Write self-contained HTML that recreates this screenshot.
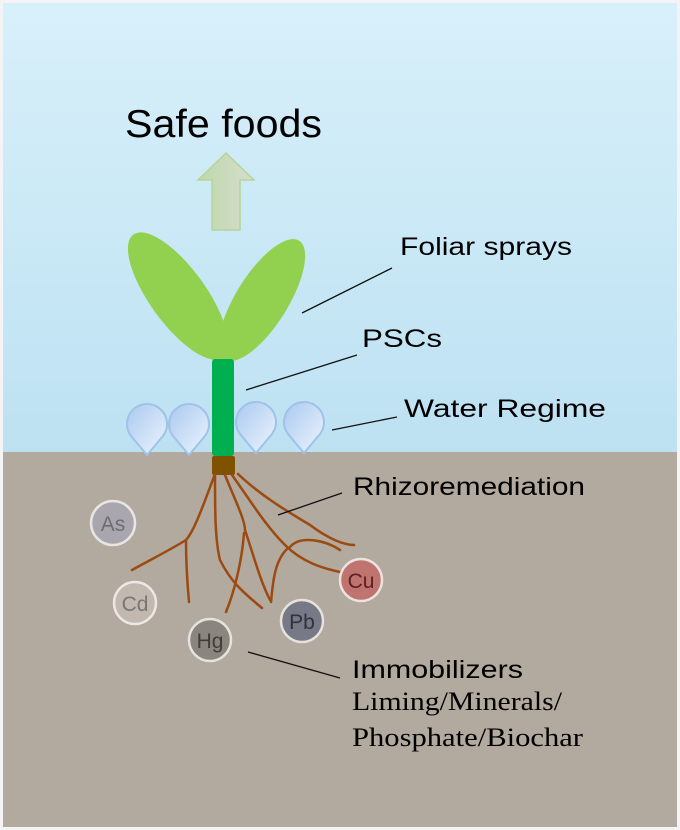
<!DOCTYPE html>
<html><head><meta charset="utf-8"><style>
html,body{margin:0;padding:0;width:680px;height:830px;overflow:hidden;background:#fff}
svg{display:block}
</style></head><body>
<svg width="680" height="830" viewBox="0 0 680 830" xmlns="http://www.w3.org/2000/svg">
<defs>
<linearGradient id="sky" x1="0" y1="0" x2="0" y2="1">
<stop offset="0" stop-color="#d8f0fa"/><stop offset="1" stop-color="#bde1f2"/>
</linearGradient>
<linearGradient id="drop" x1="0" y1="0" x2="1" y2="1">
<stop offset="0" stop-color="#a9c9f0"/><stop offset="1" stop-color="#eef5fd"/>
</linearGradient>
<linearGradient id="arr" x1="0" y1="0" x2="1" y2="0">
<stop offset="0" stop-color="#bcd8a8"/><stop offset="1" stop-color="#d8ddd0"/>
</linearGradient>
</defs>
<rect x="0" y="0" width="680" height="830" fill="#f4f4f4"/>
<rect x="3" y="3" width="674" height="450" fill="url(#sky)"/>
<rect x="3" y="452" width="674" height="375" fill="#b2a99f"/>

<text x="125" y="137" font-family="Liberation Sans, sans-serif" font-size="39" textLength="197" lengthAdjust="spacingAndGlyphs" fill="#000">Safe foods</text>
<path d="M226,153 L254,180 L240,180 L240,230 L212,230 L212,180 L198,180 Z" fill="url(#arr)" stroke="#b5d596" stroke-width="1.5"/>

<g fill="#92d050">
<ellipse cx="178" cy="296" rx="76" ry="28" transform="rotate(54 178 296)"/>
<ellipse cx="262" cy="300" rx="70" ry="26" transform="rotate(-58 262 300)"/>
<path d="M203,330 L222,322 L243,330 L235,360 L212,360 Z"/>
</g>
<rect x="212" y="359" width="22" height="97" rx="3" fill="#00b050"/>

<g fill="url(#drop)" stroke="#9fc3e8" stroke-width="2">
<path d="M147,455 L131,436 A20,20 0 1 1 163,436 Z"/>
<path d="M189,455 L173,436 A20,20 0 1 1 205,436 Z"/>
<path d="M256,453 L240,434 A20,20 0 1 1 272,434 Z"/>
<path d="M304,453 L288,434 A20,20 0 1 1 320,434 Z"/>
</g>

<rect x="212" y="456" width="23" height="19" rx="2" fill="#7f5200"/>
<g fill="none" stroke="#9c4a10" stroke-width="2.5" stroke-linecap="round">
<path d="M215,474 C205,500 195,530 186,540 C170,550 150,560 132,570"/>
<path d="M186,540 C186,560 187,580 189,602"/>
<path d="M215,474 C215,510 215,540 220,560 C230,580 240,590 262,608"/>
<path d="M225,475 C235,500 245,520 245,530 C255,560 260,580 270,600"/>
<path d="M244,533 C242,560 235,590 226,612"/>
<path d="M232,475 C250,500 265,525 285,545 C300,560 320,570 358,575"/>
<path d="M238,474 C260,495 285,510 310,525 C330,540 345,545 354,545"/>
<path d="M288,548 C275,560 273,580 271,602"/>
<path d="M290,547 C300,535 325,540 340,550"/>
</g>

<g font-family="Liberation Sans, sans-serif" font-size="21" text-anchor="middle">
<circle cx="113" cy="523" r="22" fill="#a9a7ad" stroke="#e8e6e4" stroke-width="2.5"/>
<text x="113" y="531" fill="#6b6e78">As</text>
<circle cx="135" cy="603" r="21" fill="#c1b8b0" stroke="#ece8e4" stroke-width="2.5"/>
<text x="135" y="611" fill="#7a7773">Cd</text>
<circle cx="210" cy="640" r="21" fill="#8b857f" stroke="#e6e2de" stroke-width="2.5"/>
<text x="210" y="648" fill="#3f3c3a">Hg</text>
<circle cx="302" cy="621" r="21" fill="#777a86" stroke="#e6e2de" stroke-width="2.5"/>
<text x="302" y="629" fill="#2e3340">Pb</text>
<circle cx="361" cy="580" r="21" fill="#c07470" stroke="#ece2de" stroke-width="2.5"/>
<text x="361" y="588" fill="#5e2020">Cu</text>
</g>

<g stroke="#111" stroke-width="1.3">
<line x1="302" y1="313" x2="392" y2="268"/>
<line x1="246" y1="390" x2="357" y2="355"/>
<line x1="332" y1="430" x2="397" y2="417"/>
<line x1="278" y1="515" x2="342" y2="493"/>
<line x1="248" y1="652" x2="340" y2="678"/>
</g>

<g font-family="Liberation Sans, sans-serif" font-size="25" fill="#000">
<text x="400" y="255" textLength="172" lengthAdjust="spacingAndGlyphs">Foliar sprays</text>
<text x="362" y="347" textLength="80" lengthAdjust="spacingAndGlyphs">PSCs</text>
<text x="404" y="417" textLength="202" lengthAdjust="spacingAndGlyphs">Water Regime</text>
<text x="353" y="495" textLength="232" lengthAdjust="spacingAndGlyphs">Rhizoremediation</text>
<text x="352" y="678" textLength="171" lengthAdjust="spacingAndGlyphs">Immobilizers</text>
</g>
<g font-family="Liberation Serif, serif" font-size="26" fill="#000">
<text x="352" y="710" textLength="210" lengthAdjust="spacingAndGlyphs">Liming/Minerals/</text>
<text x="352" y="746" textLength="231" lengthAdjust="spacingAndGlyphs">Phosphate/Biochar</text>
</g>
</svg>
</body></html>
